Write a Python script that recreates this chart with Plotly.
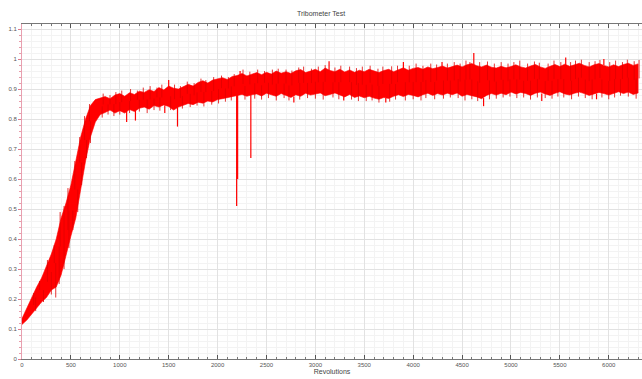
import plotly.graph_objects as go

# Revolutions sample grid (every 50 revolutions)
revs = list(range(0, 6301, 50))

# Upper envelope of the dense noisy friction trace
upper = [0.135, 0.17, 0.21, 0.24, 0.27, 0.31, 0.35, 0.40, 0.47, 0.52,
         0.58, 0.66, 0.74, 0.80, 0.845, 0.865, 0.87, 0.875, 0.868, 0.88,
         0.885, 0.876, 0.888, 0.882, 0.893, 0.889, 0.898, 0.892, 0.905, 0.897,
         0.91, 0.903, 0.90, 0.908, 0.916, 0.91, 0.922, 0.928, 0.92, 0.93,
         0.934, 0.938, 0.932, 0.942, 0.945, 0.952, 0.944, 0.95, 0.955, 0.948,
         0.956, 0.95, 0.96, 0.953, 0.958, 0.952, 0.961, 0.965, 0.955, 0.96,
         0.966, 0.958, 0.97, 0.962, 0.958, 0.966, 0.957, 0.964, 0.956, 0.963,
         0.958, 0.966, 0.96, 0.955, 0.962, 0.966, 0.958, 0.965, 0.971, 0.963,
         0.969, 0.972, 0.966, 0.974, 0.968, 0.972, 0.977, 0.97, 0.976, 0.98,
         0.974, 0.981, 0.985, 0.978, 0.974, 0.98, 0.973, 0.97, 0.976, 0.971,
         0.975, 0.981, 0.974, 0.97, 0.977, 0.982, 0.974, 0.969, 0.976, 0.982,
         0.975, 0.983, 0.976, 0.981, 0.986, 0.979, 0.974, 0.981, 0.985, 0.979,
         0.974, 0.981, 0.975, 0.982, 0.986, 0.979, 0.984]

# Lower envelope of the dense noisy friction trace
lower = [0.115, 0.13, 0.15, 0.17, 0.19, 0.205, 0.23, 0.24, 0.28, 0.34,
         0.41, 0.47, 0.57, 0.66, 0.74, 0.79, 0.815, 0.822, 0.83, 0.82,
         0.828, 0.82, 0.832, 0.825, 0.836, 0.84, 0.833, 0.845, 0.84, 0.847,
         0.842, 0.83, 0.84, 0.846, 0.852, 0.848, 0.856, 0.853, 0.86, 0.857,
         0.865, 0.868, 0.872, 0.876, 0.878, 0.882, 0.876, 0.881, 0.884, 0.877,
         0.886, 0.88, 0.876, 0.885, 0.879, 0.872, 0.881, 0.876, 0.886, 0.88,
         0.883, 0.887, 0.878, 0.882, 0.887, 0.88, 0.874, 0.882, 0.872, 0.877,
         0.871, 0.876, 0.87, 0.866, 0.872, 0.869, 0.876, 0.881, 0.875, 0.882,
         0.879, 0.874, 0.881, 0.886, 0.879, 0.885, 0.88, 0.886, 0.881, 0.887,
         0.876, 0.882, 0.879, 0.874, 0.868, 0.879, 0.885, 0.88, 0.886, 0.881,
         0.89, 0.884, 0.889, 0.885, 0.879, 0.886, 0.89, 0.884, 0.879, 0.886,
         0.891, 0.884, 0.88, 0.886, 0.89, 0.885, 0.879, 0.884, 0.889, 0.885,
         0.88, 0.886, 0.891, 0.885, 0.89, 0.882, 0.887]

# Large isolated spikes (position, where they leave the band, extreme value)
spike_x = [1070, 1160, 1460, 1500, 1590, 2195, 2205, 2230, 2340, 2780,
           3140, 3290, 3720, 3900, 4295, 4620, 4720, 5315, 5560, 5875, 5950]
spike_base = [0.83, 0.83, 0.845, 0.905, 0.84, 0.93, 0.93, 0.94, 0.90, 0.875,
              0.96, 0.88, 0.87, 0.97, 0.975, 0.98, 0.87, 0.885, 0.98, 0.885, 0.98]
spike_tip = [0.79, 0.795, 0.82, 0.93, 0.775, 0.51, 0.60, 0.96, 0.67, 0.855,
             0.993, 0.862, 0.855, 0.99, 0.99, 1.02, 0.843, 0.86, 1.005, 0.866, 1.0]

# Small noise peaks above the band (position, peak value)
hair_top_x = [120, 180, 260, 330, 390, 430, 470, 540, 590, 640, 690,
              830, 900, 960, 1020, 1110, 1180, 1240, 1310, 1380, 1430, 1560, 1620,
              1690, 1760, 1830, 1880, 1960, 2040, 2110, 2170,
              2260, 2330, 2410, 2480, 2560, 2620, 2700, 2760, 2830, 2880, 2960,
              3030, 3100, 3200, 3260, 3350, 3420, 3480, 3560, 3640, 3690, 3780,
              3840, 3960, 4030, 4100, 4180, 4240, 4350, 4420, 4480, 4540, 4580,
              4680, 4760, 4830, 4900, 4970, 5030, 5090, 5170, 5240, 5290, 5380,
              5440, 5510, 5610, 5660, 5720, 5800, 5860, 5910, 6010, 6070, 6140,
              6190, 6260, 6310]
hair_top_y = [0.22, 0.26, 0.33, 0.38, 0.49, 0.51, 0.57, 0.66, 0.74, 0.81, 0.85,
              0.885, 0.88, 0.89, 0.895, 0.90, 0.895, 0.905, 0.91, 0.905, 0.915, 0.915, 0.91,
              0.925, 0.92, 0.935, 0.93, 0.94, 0.945, 0.94, 0.95,
              0.965, 0.958, 0.965, 0.96, 0.965, 0.968, 0.965, 0.962, 0.972, 0.975, 0.968,
              0.975, 0.98, 0.972, 0.978, 0.975, 0.97, 0.975, 0.978, 0.968, 0.975, 0.976,
              0.978, 0.978, 0.985, 0.978, 0.985, 0.982, 0.985, 0.99, 0.985, 0.995, 0.99,
              0.99, 0.992, 0.985, 0.99, 0.985, 0.99, 0.995, 0.985, 0.992, 0.988, 0.985,
              0.995, 0.99, 0.99, 0.995, 0.998, 0.99, 0.993, 0.997, 0.99, 0.995, 0.99,
              0.998, 0.993, 0.997]

# Small noise dips below the band (position, dip value)
hair_bot_x = [140, 220, 300, 345, 380, 430, 480, 520, 570, 610, 660, 700,
              820, 880, 940, 1000, 1100, 1200, 1280, 1350, 1410, 1520, 1640, 1720,
              1790, 1860, 1940, 2010, 2080, 2140, 2280, 2380, 2450, 2520, 2600,
              2680, 2730, 2840, 2920, 3000, 3080, 3180, 3240, 3370, 3440, 3520,
              3580, 3650, 3760, 3820, 3920, 4000, 4080, 4130, 4220, 4310, 4380,
              4460, 4530, 4600, 4660, 4780, 4850, 4920, 4990, 5060, 5130, 5200,
              5270, 5350, 5420, 5480, 5540, 5620, 5690, 5760, 5830, 5930, 6000,
              6060, 6120, 6200, 6280]
hair_bot_y = [0.16, 0.19, 0.215, 0.205, 0.25, 0.30, 0.37, 0.43, 0.49, 0.58, 0.67, 0.72,
              0.805, 0.815, 0.81, 0.815, 0.82, 0.825, 0.82, 0.83, 0.828, 0.83, 0.835, 0.84,
              0.845, 0.842, 0.848, 0.852, 0.858, 0.862, 0.865, 0.868, 0.865, 0.87, 0.862,
              0.87, 0.862, 0.865, 0.87, 0.868, 0.865, 0.872, 0.866, 0.865, 0.86, 0.86,
              0.862, 0.855, 0.858, 0.865, 0.862, 0.866, 0.862, 0.87, 0.866, 0.868, 0.872,
              0.87, 0.862, 0.866, 0.86, 0.866, 0.868, 0.872, 0.875, 0.87, 0.872, 0.865,
              0.872, 0.87, 0.868, 0.875, 0.872, 0.866, 0.875, 0.87, 0.866, 0.872, 0.866,
              0.872, 0.878, 0.875, 0.868]

RED = "#ff0000"
DARK_RED = "#e00000"

fig = go.Figure()

# Dense noise band
fig.add_trace(go.Scatter(
    x=revs + revs[::-1],
    y=upper + lower[::-1],
    fill="toself", fillcolor=RED,
    line=dict(color=RED, width=0.6),
    mode="lines", hoverinfo="skip", showlegend=False,
))


def band_mid(x):
    k = revs.index(min(revs, key=lambda r: abs(r - x)))
    return (upper[k] + lower[k]) / 2


# Small noise hairs on both edges
hx, hy = [], []
for x, t in list(zip(hair_top_x, hair_top_y)) + list(zip(hair_bot_x, hair_bot_y)):
    hx += [x, x, None]
    hy += [band_mid(x), t, None]
fig.add_trace(go.Scatter(
    x=hx, y=hy, mode="lines",
    line=dict(color=DARK_RED, width=0.8),
    hoverinfo="skip", showlegend=False,
))

# Large spikes
sx, sy = [], []
for x, b, t in zip(spike_x, spike_base, spike_tip):
    sx += [x, x, None]
    sy += [b, t, None]
fig.add_trace(go.Scatter(
    x=sx, y=sy, mode="lines",
    line=dict(color=RED, width=1.2),
    hoverinfo="skip", showlegend=False,
))

axis_font = dict(family="Liberation Sans, Arial, sans-serif", size=6, color="#555555")

fig.update_layout(
    width=642, height=379,
    margin=dict(l=22, r=0, t=24, b=20),
    paper_bgcolor="white", plot_bgcolor="white",
    title=dict(text="Tribometer Test", x=0.5, xanchor="center", y=0.963, yanchor="middle",
               font=dict(family="Liberation Sans, Arial, sans-serif", size=7, color="#444444")),
    xaxis=dict(
        range=[0, 6340], dtick=500, tick0=0,
        showgrid=True, gridcolor="#e2e2e2", gridwidth=1,
        minor=dict(dtick=100, showgrid=True, gridcolor="#f3f3f3", ticks="inside",
                   ticklen=2, tickcolor="#777777"),
        ticks="inside", ticklen=4, tickcolor="#555555",
        showline=True, linecolor="#777777", linewidth=1, mirror="ticks",
        zeroline=False, tickfont=axis_font,
        title=dict(text="Revolutions", standoff=0,
                   font=dict(family="Liberation Sans, Arial, sans-serif", size=7, color="#444444")),
    ),
    yaxis=dict(
        range=[0, 1.117], dtick=0.1, tick0=0,
        showgrid=True, gridcolor="#e2e2e2", gridwidth=1,
        minor=dict(dtick=0.02, showgrid=True, gridcolor="#f3f3f3", ticks="outside",
                   ticklen=2, tickcolor="#e89aa8"),
        ticks="outside", ticklen=3, tickcolor="#e07a8c",
        showline=True, linecolor="#e8a0b0", linewidth=1,
        zeroline=False, tickfont=axis_font,
    ),
)

fig.write_html("out.html")
